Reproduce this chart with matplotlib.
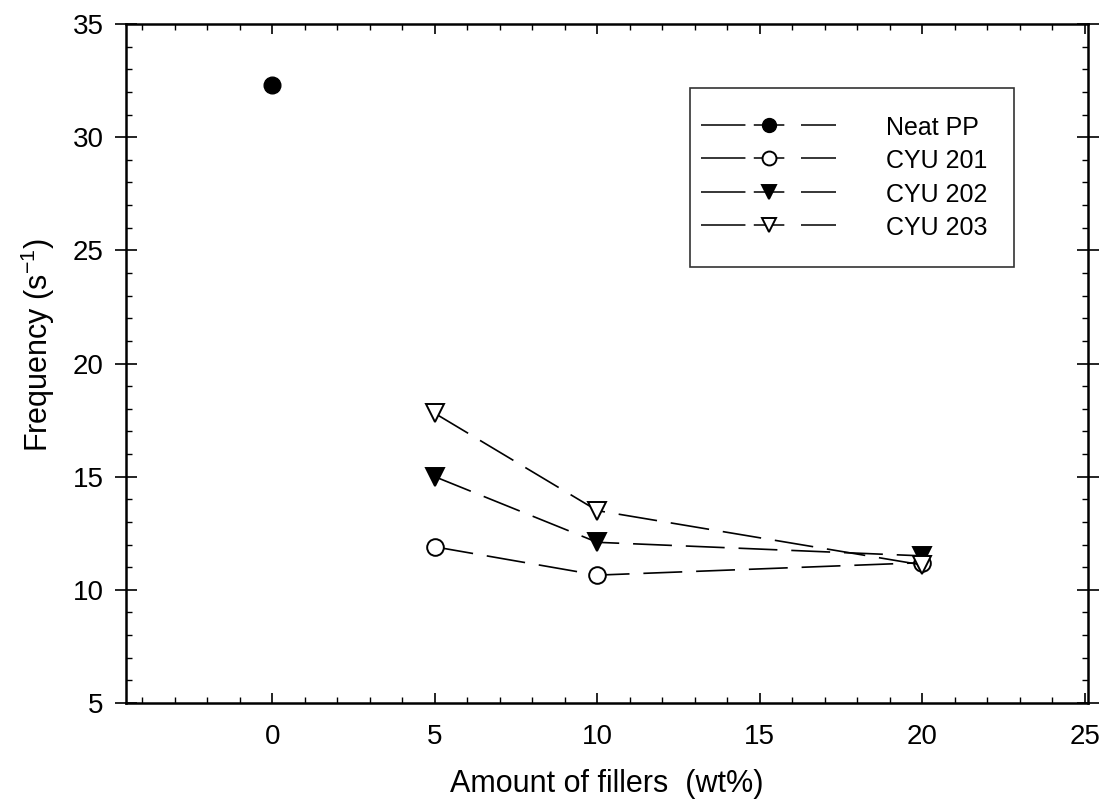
import matplotlib
matplotlib.use("Agg")
import matplotlib.pyplot as plt
from matplotlib.lines import Line2D
from matplotlib.legend_handler import HandlerLine2D
from matplotlib.ticker import MultipleLocator

plt.rcParams['font.family'] = ['Liberation Sans', 'DejaVu Sans']
plt.rcParams['lines.scale_dashes'] = False

# Data
neat_x = [0]
neat_y = [32.3]
filler_x = [5, 10, 20]
cyu201 = [11.9, 10.65, 11.2]
cyu202 = [15.0, 12.1, 11.5]
cyu203 = [17.8, 13.5, 11.1]
labels = ["Neat PP", "CYU 201", "CYU 202", "CYU 203"]
x_ticks = [0, 5, 10, 15, 20, 25]
y_ticks = [5, 10, 15, 20, 25, 30, 35]

fig = plt.figure(figsize=(11.08, 8.10), dpi=100)
ax = fig.add_axes([126/1108, 1-703/810, (1088-126)/1108, (703-24)/810])

dash = (0, (28, 10))
lw = 1.2
ax.plot(neat_x, neat_y, linestyle='none', marker='o', ms=12, mfc='black', mec='black', zorder=3)
ax.plot(filler_x, cyu201, color='black', lw=lw, linestyle=dash, marker='o', ms=12,
        mfc='white', mec='black', mew=1.4, zorder=3)
ax.plot(filler_x, cyu202, color='black', lw=lw, linestyle=dash, marker='v', ms=12.5,
        mfc='black', mec='black', mew=1.4, zorder=3)
ax.plot(filler_x, cyu203, color='black', lw=lw, linestyle=dash, marker='v', ms=12.5,
        mfc='white', mec='black', mew=1.4, zorder=3)

ax.set_xlim(-4.5, 25.1)
ax.set_ylim(5, 35)
ax.set_xticks(x_ticks)
ax.set_yticks(y_ticks)
ax.xaxis.set_minor_locator(MultipleLocator(1))
ax.yaxis.set_minor_locator(MultipleLocator(1))
ax.tick_params(axis='x', which='major', direction='in', length=7, width=1.2,
               top=True, labelsize=20, pad=15)
ax.tick_params(axis='y', which='major', direction='inout', length=16, width=1.2,
               right=True, labelsize=20, pad=8)
ax.tick_params(which='minor', direction='in', length=4, width=1, top=True, right=True)
for s in ax.spines.values():
    s.set_linewidth(1.8)

ax.set_xlabel("Amount of fillers  (wt%)", fontsize=22)
ax.xaxis.set_label_coords(0.5, -0.12)
ax.xaxis.label.set_va('center')
ax.set_ylabel("Frequency (s$^{\\mathregular{-1}}$)", fontsize=22)
ax.yaxis.set_label_coords(-0.0915, 0.527)
ax.yaxis.label.set_va('center')


class ExtendedLineHandler(HandlerLine2D):
    def get_xdata(self, legend, xdescent, ydescent, width, height, fontsize):
        ext = 0.6 * fontsize
        xdata = [-xdescent - ext, -xdescent + width]
        xdata_marker = [-xdescent + 0.5 * (width - ext)]
        return xdata, xdata_marker


leg_ls = (0, (32, 6, 22, 12, 30, 10))
handles = [
    Line2D([], [], color='black', lw=1.1, linestyle=leg_ls, marker='o', ms=10, mfc='black', mec='black'),
    Line2D([], [], color='black', lw=1.1, linestyle=leg_ls, marker='o', ms=10, mfc='white', mec='black', mew=1.4),
    Line2D([], [], color='black', lw=1.1, linestyle=leg_ls, marker='v', ms=10.5, mfc='black', mec='black', mew=1.4),
    Line2D([], [], color='black', lw=1.1, linestyle=leg_ls, marker='v', ms=10.5, mfc='white', mec='black', mew=1.4),
]
handler = ExtendedLineHandler()
leg = fig.legend(handles, labels, loc='upper left', bbox_to_anchor=(690/1108, 1-88/810),
                 bbox_transform=fig.transFigure, fontsize=18, frameon=True, fancybox=False,
                 edgecolor='black', handlelength=4.8, handletextpad=2.0, labelspacing=0.32,
                 borderpad=1.05, borderaxespad=0, handleheight=1.1,
                 handler_map={h: handler for h in handles})
leg.get_frame().set_linewidth(1.2)
leg.set_zorder(5)

fig.savefig("out.png", dpi=100, facecolor='white')
